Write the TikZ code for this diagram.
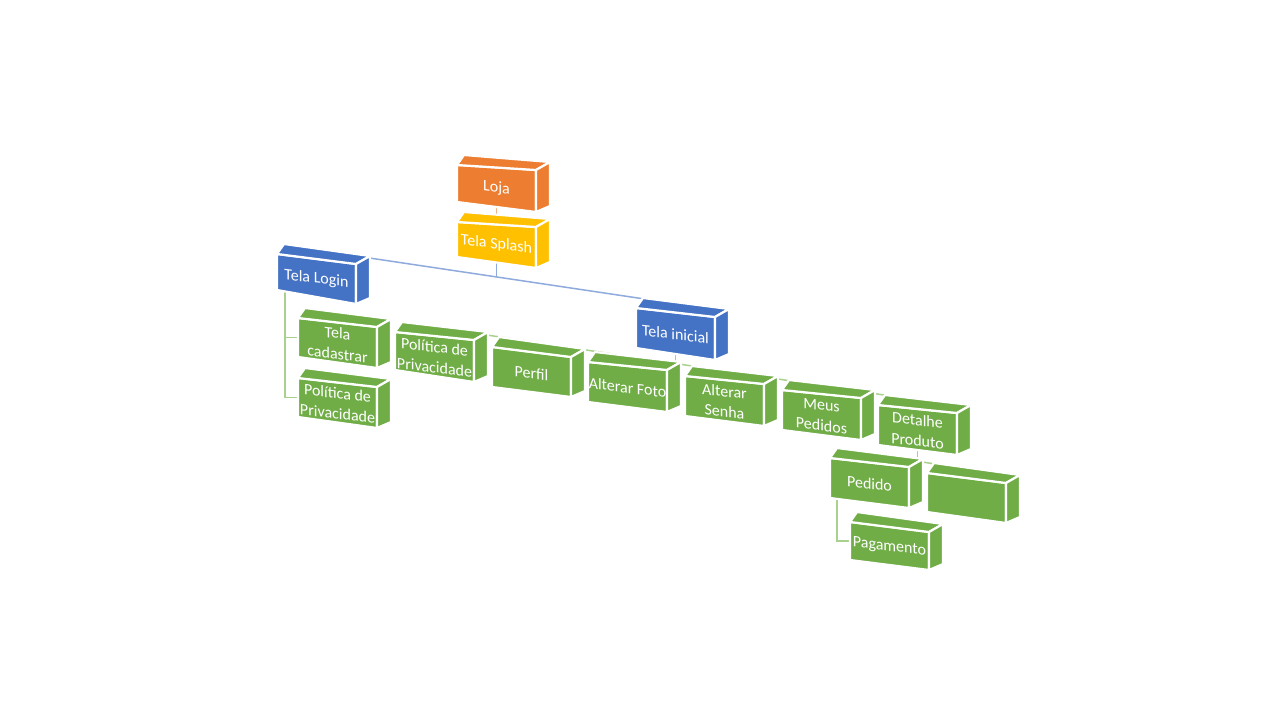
\documentclass[tikz,border=0pt]{standalone}
\usepackage{fontspec}
\setmainfont{Carlito}
\usetikzlibrary{calc,backgrounds}
\definecolor{cOrange}{HTML}{ED7D31}
\definecolor{cYellow}{HTML}{FFC000}
\definecolor{cBlue}{HTML}{4472C4}
\definecolor{cGreen}{HTML}{70AD47}
\definecolor{cBlueLine}{HTML}{8FAADC}
\definecolor{cGreenLine}{HTML}{A9D18E}
\definecolor{cOrangeLine}{HTML}{F4B183}
\newcommand\cubebox[8]{%
  \path[boxface,fill=#2] (#3,#4) -- ({#3+79},{#4+#5}) -- ({#3+79},{#4+#6+#7}) -- (#3,{#4+#6}) -- cycle;
  \path[boxface,fill=#2] (#3,#4) -- ({#3+79},{#4+#5}) -- ({#3+93},{#4+#5-8}) -- ({#3+7},{#4-10}) -- cycle;
  \path[boxface,fill=#2] ({#3+79},{#4+#5}) -- ({#3+93},{#4+#5-8}) -- ({#3+93},{#4+#6+#7-6}) -- ({#3+79},{#4+#6+#7}) -- cycle;
  \node[boxlabel] (#1) at ({#3+39.5},{#4+(#5+2*#6+#7)/4+1}) {#8};
  \coordinate (#1-t) at ({#3+45.5},{#4+#5/2-8});
  \coordinate (#1-b) at ({#3+39.5},{#4+#6+#7/2});
  \coordinate (#1-l) at (#3,{#4+#6/2});
  \coordinate (#1-bl) at (#3,{#4+#6});
}
\tikzset{
  boxface/.style={draw=white,line width=2.2pt,line join=round},
  boxlabel/.style={text=white,font=\fontsize{16}{20.5}\selectfont,align=center,inner sep=0pt,yslant=-0.12,transform shape},
  blink/.style={draw=cBlueLine,line width=1.5pt},
  glink/.style={draw=cGreenLine,line width=1.5pt},
  olink/.style={draw=cOrangeLine,line width=1.5pt}
}
\begin{document}
\begin{tikzpicture}[x=1pt,y=-1pt]
\useasboundingbox (0,0) rectangle (1280,720);
\cubebox{splash}{cYellow}{457}{222}{5}{35}{11}{Tela Splash}
\cubebox{loja}{cOrange}{457}{165}{5}{37}{10}{Loja}
\cubebox{login}{cBlue}{277}{254}{10}{36}{14}{Tela Login}
\cubebox{inicial}{cBlue}{636}{308}{9}{40}{12}{Tela inicial}
\cubebox{pol2}{cGreen}{395}{332}{8}{38}{12}{Política de\\Privacidade}
\cubebox{perfil}{cGreen}{492}{347}{10}{40}{10}{Perfil}
\cubebox{foto}{cGreen}{588}{362}{8}{40}{10}{Alterar Foto}
\cubebox{senha}{cGreen}{685}{376}{8}{40}{10}{Alterar\\Senha}
\cubebox{meus}{cGreen}{782}{390}{8}{40}{10}{Meus\\Pedidos}
\cubebox{detalhe}{cGreen}{878}{405}{8}{40}{10}{Detalhe\\Produto}
\cubebox{cad}{cGreen}{298}{318}{9}{39}{11}{Tela\\cadastrar}
\cubebox{pol1}{cGreen}{298}{378}{9}{39}{11}{Política de\\Privacidade}
\cubebox{pedido}{cGreen}{830}{458}{9}{40}{10}{Pedido}
\cubebox{vazio}{cGreen}{927}{473}{10}{39}{11}{}
\cubebox{pag}{cGreen}{850}{522}{10}{38}{10}{Pagamento}
\begin{pgfonlayer}{background}
\fill[white] (0,0) rectangle (1280,720);
\draw[olink] (loja-b) -- (loja-b |- splash-t);
\draw[blink] (login-t) -- coordinate[pos=0.486] (j1) (inicial-t);
\draw[blink] (splash-b) -- (splash-b |- j1);
\draw[glink] (pol2-t) -- coordinate[pos=0.4876] (j2) (detalhe-t);
\draw[glink] (inicial-b) -- (inicial-b |- j2);
\draw[glink] (pedido-t) -- coordinate[pos=0.433] (j3) (vazio-t);
\draw[glink] (detalhe-b) -- (detalhe-b |- j3);
\draw[glink] ($(login-bl)+(8,0)$) |- (cad-l);
\draw[glink] ($(login-bl)+(8,0)$) |- (pol1-l);
\draw[glink] ($(pedido-bl)+(7,0)$) |- (pag-l);
\end{pgfonlayer}
\end{tikzpicture}
\end{document}
